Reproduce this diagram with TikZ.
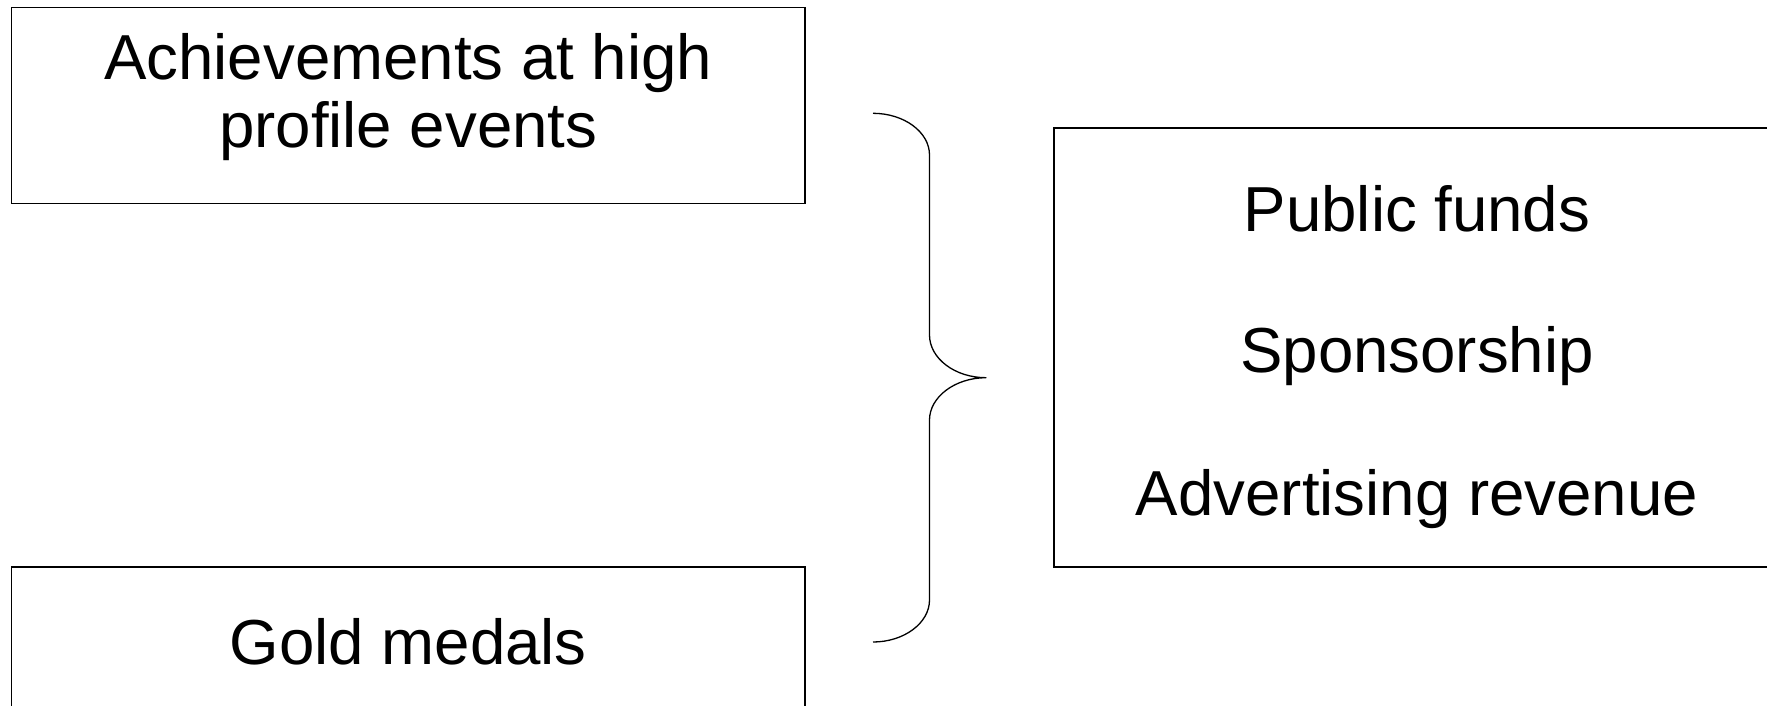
\documentclass[tikz,border=0pt]{standalone}
\usepackage{fontspec}
\setmainfont{Liberation Sans}
\begin{document}
\begin{tikzpicture}[x=1pt,y=-1pt,
  frame/.style={draw=black,line width=1.6pt,rectangle,inner sep=0pt},
  caption/.style={anchor=base,inner sep=0pt,font=\fontsize{63.6}{70}\selectfont},
  bracket/.style={draw=black,line width=1.3pt,line join=round}]
\useasboundingbox (0,0) rectangle (1767,706);
\clip (0,0) rectangle (1767,706);

% left-hand boxes
\node[frame,minimum width=793.5pt,minimum height=196pt] (achBox) at (408.25,105.5) {};
\node[caption] (achLineA) at (408.25,80) {Achievements at high};
\node[caption] (achLineB) at (408.25,148) {profile events};

\node[frame,minimum width=793.5pt,minimum height=196pt] (goldBox) at (408.25,664.7) {};
\node[caption] (goldText) at (408.25,664) {Gold medals};

% right-hand box with the three sources
\node[frame,minimum width=726pt,minimum height=438.4pt] (fundBox) at (1417,347.5) {};
\node[caption] (pubText) at (1417,231) {Public funds};
\node[caption] (sponText) at (1417,372) {Sponsorship};
\node[caption] (advText) at (1417,515) {Advertising revenue};

% curly bracket joining the left boxes to the right box
\coordinate (brTop) at (873,113.3);
\coordinate (brTip) at (986,377.7);
\coordinate (brBot) at (873,642);
\draw[bracket] (brTop)
  .. controls (904,113.3) and (929.5,132) .. (929.5,155)
  -- (929.5,335)
  .. controls (929.5,358.5) and (955,377.7) .. (brTip)
  .. controls (955,377.7) and (929.5,397) .. (929.5,420)
  -- (929.5,600)
  .. controls (929.5,623) and (904,642) .. (brBot);
\end{tikzpicture}
\end{document}
